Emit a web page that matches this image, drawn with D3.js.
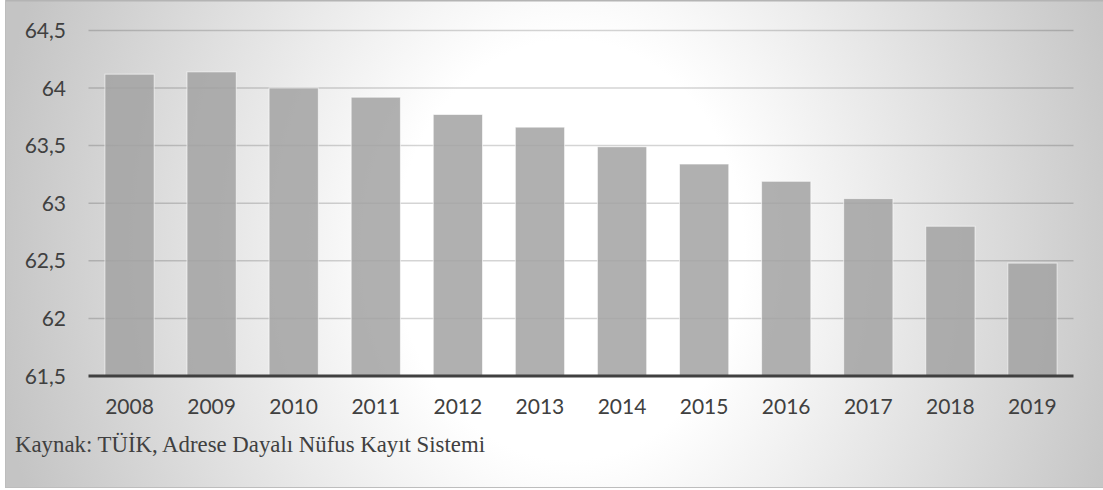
<!DOCTYPE html>
<html>
<head>
<meta charset="utf-8">
<script src="https://cdn.jsdelivr.net/npm/d3@7/dist/d3.min.js"></script>
<style>
  html, body { margin: 0; padding: 0; background: #ffffff; }
  svg { display: block; }
</style>
</head>
<body>
<svg id="chart" width="1103" height="490"></svg>
<script>
const years = ["2008","2009","2010","2011","2012","2013","2014","2015","2016","2017","2018","2019"];
const values = [64.12, 64.14, 64.00, 63.92, 63.77, 63.66, 63.49, 63.34, 63.19, 63.04, 62.80, 62.48];
const yTicks = [61.5, 62, 62.5, 63, 63.5, 64, 64.5];
const yTickLabels = ["61,5", "62", "62,5", "63", "63,5", "64", "64,5"];
const sourceText = "Kaynak: TÜİK, Adrese Dayalı Nüfus Kayıt Sistemi";

const svg = d3.select("#chart");
const box = {x: 5, y: 0, w: 1098, h: 487};

const defs = svg.append("defs");
const cx = 570, cy = 250, rx = 580, ry = 700;
const grad = defs.append("radialGradient")
  .attr("id", "bg").attr("gradientUnits", "userSpaceOnUse")
  .attr("cx", 0).attr("cy", 0).attr("r", 1)
  .attr("gradientTransform", `translate(${cx},${cy}) scale(${rx},${ry})`);
grad.append("stop").attr("offset", 0).attr("stop-color", "#ffffff");
grad.append("stop").attr("offset", 0.3).attr("stop-color", "#ffffff");
grad.append("stop").attr("offset", 1).attr("stop-color", "#c4c4c4");

svg.append("rect").attr("x", box.x).attr("y", box.y).attr("width", box.w).attr("height", box.h)
  .attr("fill", "url(#bg)");

const x = d3.scaleBand().domain(years).range([88.5, 1073.5]).paddingInner(0.4).paddingOuter(0.2);
const y = d3.scaleLinear().domain([61.5, 64.5]).range([376, 30.4]);

// gridlines
svg.append("g").selectAll("line").data(yTicks.filter(t => t > 61.5)).join("line")
  .attr("x1", 88.5).attr("x2", 1073.5)
  .attr("y1", d => y(d)).attr("y2", d => y(d))
  .attr("stroke", "#000000").attr("stroke-opacity", 0.17).attr("stroke-width", 1.5);

// bars
svg.append("g").selectAll("rect").data(years).join("rect")
  .attr("x", d => x(d)).attr("width", x.bandwidth())
  .attr("y", (d, i) => y(values[i])).attr("height", (d, i) => y(61.5) - y(values[i]))
  .attr("fill", "rgb(162,162,162)").attr("fill-opacity", 0.85)
  .attr("stroke", "#ffffff").attr("stroke-opacity", 0.6).attr("stroke-width", 1);

// baseline axis
svg.append("line").attr("x1", 88.5).attr("x2", 1073.5).attr("y1", y(61.5)).attr("y2", y(61.5))
  .attr("stroke", "#404040").attr("stroke-width", 3);

// border
svg.append("line").attr("x1", box.x).attr("x2", 1103).attr("y1", 0.75).attr("y2", 0.75)
  .attr("stroke", "#b4b4b4").attr("stroke-width", 1.5);
svg.append("line").attr("x1", box.x + 0.5).attr("x2", box.x + 0.5).attr("y1", 0).attr("y2", box.h)
  .attr("stroke", "#bdbdbd").attr("stroke-width", 1);
svg.append("line").attr("x1", box.x).attr("x2", 1103).attr("y1", box.h + 0.5).attr("y2", box.h + 0.5)
  .attr("stroke", "#bdbdbd").attr("stroke-width", 1);

// y tick labels
svg.append("g").selectAll("text").data(yTicks).join("text")
  .attr("x", 66).attr("y", d => y(d)).attr("dy", "0.36em")
  .attr("text-anchor", "end")
  .style("font-family", "Lato, 'Open Sans', sans-serif").style("font-size", "21px")
  .attr("fill", "#404040")
  .text((d, i) => yTickLabels[i]);

// x tick labels
svg.append("g").selectAll("text").data(years).join("text")
  .attr("x", d => x(d) + x.bandwidth() / 2).attr("y", 414)
  .attr("text-anchor", "middle")
  .style("font-family", "Lato, 'Open Sans', sans-serif").style("font-size", "21px")
  .attr("fill", "#404040")
  .text(d => d);

// source
svg.append("text").attr("x", 15).attr("y", 452)
  .style("font-family", "'Liberation Serif', 'Times New Roman', Tinos, 'DejaVu Serif', serif")
  .style("font-size", "22.8px")
  .attr("fill", "#404040")
  .text(sourceText);
</script>
</body>
</html>
